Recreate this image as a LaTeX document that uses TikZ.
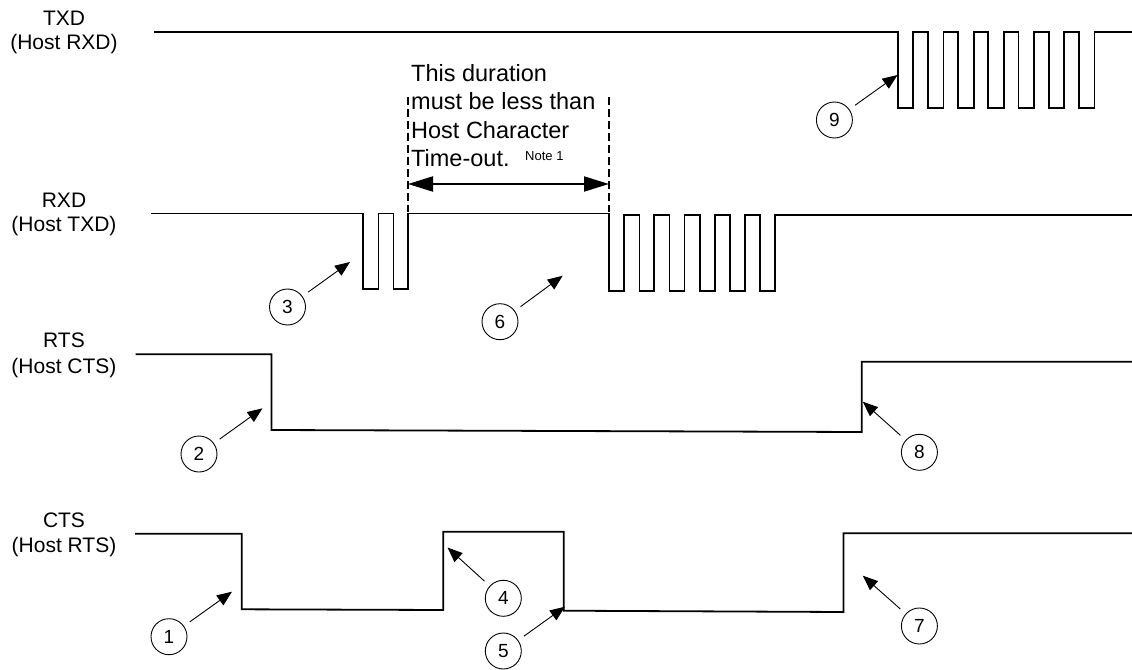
\documentclass[tikz,border=0pt]{standalone}
\usepackage{fontspec}
\setmainfont{Liberation Sans}
\usetikzlibrary{arrows.meta}
\tikzset{
  sig/.style={line width=1.8bp, line join=miter},
  lbl/.style={anchor=base, inner sep=0pt, font=\fontsize{21bp}{24bp}\selectfont},
  dur/.style={anchor=base west, inner sep=0pt, font=\fontsize{23.5bp}{28bp}\selectfont},
  num/.style={circle, draw, line width=0.9bp, minimum size=36bp, inner sep=0pt, font=\fontsize{19bp}{22bp}\selectfont},
  callout/.style={line width=0.9bp, -{Triangle[length=15bp,width=12bp]}, shorten <=7bp},
  dimarrow/.style={line width=2bp, {Triangle[length=25bp,width=15bp]}-{Triangle[length=25bp,width=15bp]}},
  dimline/.style={line width=1.2bp, dash pattern=on 8bp off 4bp},
}
\begin{document}
\begin{tikzpicture}[x=1bp,y=-1bp]
\useasboundingbox (0,0) rectangle (1132,670);

% labels
\node[lbl] (txdA) at (64,26) {TXD};
\node[lbl] (txdB) at (64,50) {(Host RXD)};
\node[lbl] (rxdA) at (64,207.3) {RXD};
\node[lbl] (rxdB) at (64,231.7) {(Host TXD)};
\node[lbl] (rtsA) at (64,347.7) {RTS};
\node[lbl] (rtsB) at (64,373.3) {(Host CTS)};
\node[lbl] (ctsA) at (64,527.3) {CTS};
\node[lbl] (ctsB) at (64,552.7) {(Host RTS)};

% TXD
\draw[sig] (154,32) -- (897.7,32)
  -- (897.7,108) -- (913.3,108) -- (913.3,32) -- (927.9,32)
  -- (927.9,108) -- (943.5,108) -- (943.5,32) -- (958.1,32)
  -- (958.1,108) -- (973.7,108) -- (973.7,32) -- (988.3,32)
  -- (988.3,108) -- (1003.9,108) -- (1003.9,32) -- (1018.5,32)
  -- (1018.5,108) -- (1034.1,108) -- (1034.1,32) -- (1048.7,32)
  -- (1048.7,108) -- (1064.3,108) -- (1064.3,32) -- (1078.9,32)
  -- (1078.9,108) -- (1094.5,108) -- (1094.5,32) -- (1132,32);

% RXD
\draw[sig] (151,213.5) -- (363,213.5) -- (363,289) -- (378.5,289) -- (378.5,213.5)
  -- (393.5,213.5) -- (393.5,289) -- (408.3,289) -- (408.3,213.5) -- (609.3,213.5)
  -- (609.3,291) -- (624,291) -- (624,215) -- (639.4,215)
  -- (639.4,291) -- (654.2,291) -- (654.2,215) -- (669.5,215)
  -- (669.5,291) -- (684.4,291) -- (684.4,215) -- (699.6,215)
  -- (699.6,291) -- (714.6,291) -- (714.6,215) -- (729.7,215)
  -- (729.7,291) -- (744.8,291) -- (744.8,215) -- (759.8,215)
  -- (759.8,291) -- (775,291) -- (775,215) -- (1132,215);

% RTS
\draw[sig] (135.7,354.3) -- (271.4,354.3) -- (271.4,430) -- (861.7,432) -- (861.7,361.7) -- (1132,361.7);

% CTS
\draw[sig] (135,533.7) -- (241.8,533.7) -- (241.8,609.3) -- (443.3,610) -- (443.3,531.7)
  -- (563.7,531.7) -- (563.7,610.7) -- (843.5,612) -- (843.5,533.3) -- (1132,533.3);

% duration annotation
\node[dur] (d1) at (411,81.7) {This duration};
\node[dur] (d2) at (411,110) {must be less than};
\node[dur] (d3) at (411,138.3) {Host Character};
\node[dur] (d4) at (411,166.7) {Time-out.};
\node[anchor=base west, inner sep=0pt, font=\fontsize{13bp}{15bp}\selectfont] (note) at (525,161) {Note 1};
\draw[dimline] (408,97) -- (408,212);
\draw[dimline] (609,97) -- (609,212);
\coordinate (dL) at (408,184);
\coordinate (dR) at (609,184);
\draw[dimarrow] (dL) -- (dR);

% callouts
\node[num] (c1) at (169,636.7) {1};
\node[num] (c2) at (199,454) {2};
\node[num] (c3) at (287.5,307) {3};
\node[num] (c4) at (503.3,598.3) {4};
\node[num] (c5) at (503.3,651) {5};
\node[num] (c6) at (500,321.7) {6};
\node[num] (c7) at (919.4,626) {7};
\node[num] (c8) at (919.4,452.3) {8};
\node[num] (c9) at (834.4,120) {9};

\coordinate (t1) at (232,591.7);
\coordinate (t2) at (262.5,408.3);
\coordinate (t3) at (350,262);
\coordinate (t4) at (447.5,547.5);
\coordinate (t5) at (565,606.7);
\coordinate (t6) at (562.7,275.7);
\coordinate (t7) at (862.8,575.7);
\coordinate (t8) at (862.8,401.7);
\coordinate (t9) at (897.5,75);

\draw[callout] (c1) -- (t1);
\draw[callout] (c2) -- (t2);
\draw[callout] (c3) -- (t3);
\draw[callout] (c4) -- (t4);
\draw[callout] (c5) -- (t5);
\draw[callout] (c6) -- (t6);
\draw[callout] (c7) -- (t7);
\draw[callout] (c8) -- (t8);
\draw[callout] (c9) -- (t9);
\end{tikzpicture}
\end{document}
